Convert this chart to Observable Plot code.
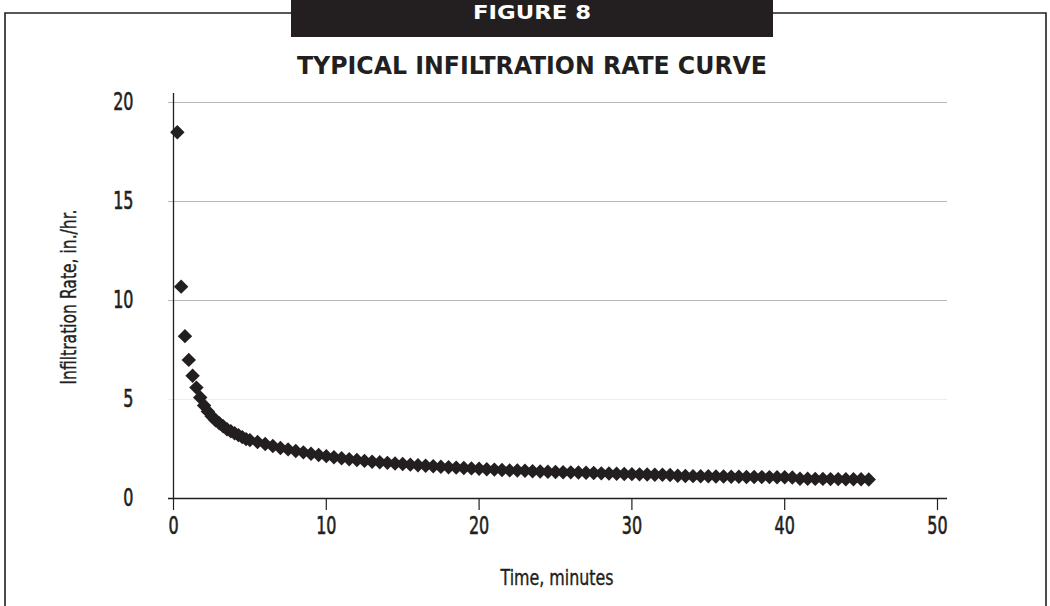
<!DOCTYPE html>
<html><head><meta charset="utf-8">
<script src="https://cdn.jsdelivr.net/npm/d3@7"></script>
<script src="https://cdn.jsdelivr.net/npm/@observablehq/plot@0.6"></script>
<style>
html,body{margin:0;padding:0;background:#fff;}
#wrap{position:relative;width:1050px;height:606px;overflow:hidden;background:#fff;}
#wrap svg{position:absolute;left:0;top:0;}
</style></head><body><div id="wrap"></div>
<script>
// Time, minutes
const times = [
  0.25,0.5,0.75,1,1.25,1.5,1.75,2,2.25,2.5,2.75,3,3.25,3.5,3.75,4,4.25,4.5,4.75,5,
  5.5,6,6.5,7,7.5,8,8.5,9,9.5,10,
  10.5,11,11.5,12,12.5,13,13.5,14,14.5,15,
  15.5,16,16.5,17,17.5,18,18.5,19,19.5,20,
  20.5,21,21.5,22,22.5,23,23.5,24,24.5,25,
  25.5,26,26.5,27,27.5,28,28.5,29,29.5,30,
  30.5,31,31.5,32,32.5,33,33.5,34,34.5,35,
  35.5,36,36.5,37,37.5,38,38.5,39,39.5,40,
  40.5,41,41.5,42,42.5,43,43.5,44,44.5,45,45.5
];
// Infiltration rate, in./hr.
const rates = [
  18.5,10.7,8.2,7.0,6.2,5.6,5.1,4.7,4.4,4.15,3.95,3.8,3.65,3.5,3.4,3.3,3.2,3.1,3.0,2.95,
  2.85,2.75,2.65,2.55,2.48,2.4,2.33,2.26,2.2,2.14,
  2.08,2.03,1.98,1.94,1.9,1.86,1.83,1.8,1.77,1.74,
  1.71,1.68,1.65,1.63,1.6,1.58,1.56,1.54,1.52,1.5,
  1.48,1.46,1.44,1.42,1.41,1.4,1.38,1.36,1.35,1.34,
  1.33,1.32,1.31,1.3,1.29,1.27,1.26,1.25,1.24,1.23,
  1.22,1.21,1.2,1.2,1.19,1.15,1.14,1.13,1.12,1.12,
  1.11,1.11,1.1,1.1,1.09,1.09,1.08,1.08,1.07,1.07,
  1.06,1.0,1.0,0.99,0.99,0.98,0.98,0.97,0.97,0.97,0.96
];
const xTicks = [0,10,20,30,40,50];
const yTicks = [0,5,10,15,20];
const gridMain = [10,15,20];
const gridFaint = [5];

const figureLabel = "FIGURE 8";
const title = "TYPICAL INFILTRATION RATE CURVE";
const xLabel = "Time, minutes";
const yLabel = "Infiltration Rate, in./hr.";

const data = times.map((t, i) => ({t, r: rates[i]}));
const ink = "#231f20";
const narrow = "'DejaVu Sans Condensed',sans-serif";

const plot = Plot.plot({
  width: 1050, height: 606,
  marginLeft: 173, marginRight: 113, marginTop: 102, marginBottom: 108,
  x: {domain: [0, 50]},
  y: {domain: [0, 20]},
  style: {fontFamily: narrow, fontSize: "24px", color: ink, background: "transparent", overflow: "visible"},
  marks: [
    Plot.ruleY(gridFaint, {stroke: "#ededed", insetLeft: -5, insetRight: -10}),
    Plot.ruleY(gridMain, {stroke: "#b9b9b9", insetLeft: -5, insetRight: -10}),
    Plot.ruleX([0], {stroke: ink, strokeWidth: 1.3, insetTop: -9}),
    Plot.ruleY([0], {stroke: ink, strokeWidth: 1.3, insetLeft: -5, insetRight: -10}),
    Plot.axisX({ticks: xTicks, tickSize: 12, tickPadding: 6, label: null, stroke: ink, strokeWidth: 1.2, fontSize: 24}),
    Plot.axisY({ticks: yTicks, tickSize: 0, tickPadding: 40, label: null, fontSize: 24}),
    Plot.dot(data, {x: "t", y: "r", symbol: "diamond2", r: 6.5, fill: ink, stroke: null})
  ]
});

// condense the tick labels horizontally around their anchor point and give them a medium weight
plot.querySelectorAll('g[aria-label="x-axis tick label"] text, g[aria-label="y-axis tick label"] text').forEach(el => {
  const tr = el.getAttribute("transform") || "";
  el.setAttribute("transform", tr + " scale(0.74,1)");
  el.setAttribute("stroke", ink);
  el.setAttribute("stroke-width", "0.6");
});

const wrap = document.getElementById("wrap");
wrap.appendChild(plot);

const ns = "http://www.w3.org/2000/svg";
const ov = document.createElementNS(ns, "svg");
ov.setAttribute("width", 1050);
ov.setAttribute("height", 606);
const ff = "&quot;DejaVu Sans Condensed&quot;,sans-serif";
ov.innerHTML = `
  <path d="M5,606 V13 H291 M773,13 H1046 V606" fill="none" stroke="${ink}" stroke-width="1.6"/>
  <rect x="291" y="0" width="482" height="37" fill="${ink}"/>
  <text x="532" y="19" text-anchor="middle" fill="#fff" font-family="${ff}" font-weight="bold" font-size="20" textLength="118" lengthAdjust="spacingAndGlyphs">${figureLabel}</text>
  <text x="532" y="74" text-anchor="middle" fill="${ink}" font-family="${ff}" font-weight="bold" font-size="25" textLength="470" lengthAdjust="spacingAndGlyphs">${title}</text>
  <text x="557" y="585" text-anchor="middle" fill="${ink}" stroke="${ink}" stroke-width="0.4" font-family="${ff}" font-size="22" textLength="113" lengthAdjust="spacingAndGlyphs">${xLabel}</text>
  <text transform="translate(76,297) rotate(-90)" text-anchor="middle" fill="${ink}" stroke="${ink}" stroke-width="0.4" font-family="${ff}" font-size="22" textLength="175" lengthAdjust="spacingAndGlyphs">${yLabel}</text>
`;
wrap.appendChild(ov);
</script>
</body></html>
